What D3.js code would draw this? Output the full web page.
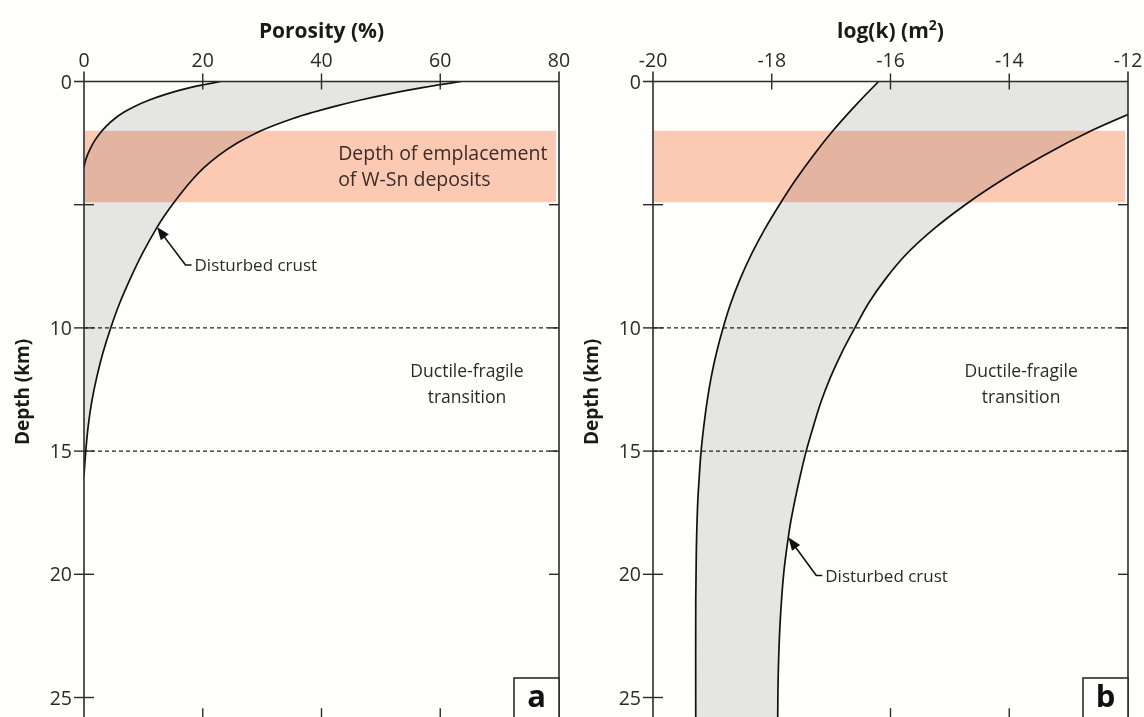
<!DOCTYPE html>
<html><head><meta charset="utf-8">
<script src="https://cdn.jsdelivr.net/npm/d3@7"></script>
<style>
html,body{margin:0;padding:0;background:#fefefc;}
svg{display:block;font-family:"Open Sans",sans-serif;}
</style></head>
<body>
<svg id="chart" width="1144" height="717"></svg>
<script>
// ---------- data ----------
const porosityTicks = [0, 20, 40, 60, 80];
const logkTicks = [-20, -18, -16, -14, -12];
const depthTicks = [0, 5, 10, 15, 20, 25];
const depthTickLabels = ["0", "", "10", "15", "20", "25"];
const transitionDepths = [10, 15];
const emplacementBand = [2.0, 4.9];

// [depth km, porosity %]
const porosityLow = [[0,23],[0.15,19.8],[0.3,17.0],[0.5,14.0],[0.75,11.0],[1.0,8.6],[1.25,6.7],[1.5,5.2],[1.8,3.8],[2.1,2.7],[2.4,1.8],[2.7,1.1],[3.0,0.55],[3.3,0.15],[3.5,0]];
const porosityHigh = [[0,63.5],[0.25,57.0],[0.5,51.4],[0.75,46.6],[1.0,42.4],[1.25,38.6],[1.5,35.2],[2.0,29.8],[2.5,25.8],[3.0,22.7],[3.5,20.2],[4.0,18.2],[4.8,15.5],[5.5,13.4],[6.0,12.1],[7.0,9.8],[8.0,7.8],[9.0,6.0],[10.0,4.5],[11.0,3.2],[12.0,2.15],[13.0,1.3],[14.0,0.7],[15.0,0.3],[16.0,0]];

// [depth km, log k]
const logkLow = [[0,-16.2],[1,-16.6],[2,-16.97],[3,-17.3],[4,-17.6],[5,-17.87],[6,-18.12],[7,-18.34],[8,-18.53],[9,-18.69],[10,-18.82],[11,-18.93],[12,-19.02],[13,-19.09],[14,-19.145],[15,-19.19],[16,-19.22],[17,-19.245],[18,-19.26],[19,-19.27],[21,-19.28],[26,-19.28]];
const logkHigh = [[1.34,-12],[2,-12.62],[3,-13.42],[4,-14.12],[5,-14.74],[6,-15.28],[7,-15.73],[8,-16.08],[9,-16.37],[10,-16.6],[11,-16.82],[12,-17.01],[13,-17.17],[14,-17.3],[15,-17.42],[16,-17.52],[17,-17.61],[18,-17.69],[19,-17.75],[20,-17.8],[22,-17.86],[24,-17.89],[26,-17.9]];

// ---------- drawing ----------
const svg = d3.select("#chart");
const y = d3.scaleLinear().domain([0, 25]).range([81.5, 697.5]);
const yBottom = y(26);
const axisColor = "#2b2b2b";
const textColor = "#2a2a2a";

function panel(opts) {
  const {x, ticks, tickFmt, low, high, title, titleSup, letter, arrow, clipId, fillPath} = opts;
  const g = svg.append("g");
  const [x0, x1] = x.range();

  g.append("clipPath").attr("id", clipId).append("rect")
    .attr("x", x0).attr("y", y(0)).attr("width", x1 - x0).attr("height", yBottom - y(0));

  // bottom ticks (beneath fill)
  g.selectAll(".bt").data(ticks.slice(1, -1)).join("line")
    .attr("x1", d => x(d)).attr("x2", d => x(d))
    .attr("y1", yBottom - 14).attr("y2", yBottom)
    .attr("stroke", axisColor).attr("stroke-width", 1.4);

  // grey fill
  const line = d3.line().x(d => x(d[1])).y(d => y(d[0])).curve(d3.curveCatmullRom.alpha(0.5));
  g.append("path").attr("d", fillPath(line))
    .attr("fill", "#e5e5e3").attr("stroke", "none").attr("clip-path", `url(#${clipId})`);

  // band
  g.append("rect")
    .attr("x", x0 + 1).attr("width", x1 - x0 - 4)
    .attr("y", y(emplacementBand[0])).attr("height", y(emplacementBand[1]) - y(emplacementBand[0]))
    .attr("fill", "#fdcab5").style("mix-blend-mode", "multiply");

  // dashed transition lines
  g.selectAll(".dash").data(transitionDepths).join("line")
    .attr("x1", x0).attr("x2", x1).attr("y1", d => y(d)).attr("y2", d => y(d))
    .attr("stroke", "#222").attr("stroke-width", 1.3).attr("stroke-dasharray", "4,3");

  // curves
  [low, high].forEach(data => {
    g.append("path").attr("d", line(data)).attr("fill", "none")
      .attr("stroke", "#111").attr("stroke-width", 1.7).attr("clip-path", `url(#${clipId})`);
  });

  // frame: top, left, right
  g.append("line").attr("x1", x0 - 10).attr("x2", x1).attr("y1", y(0)).attr("y2", y(0))
    .attr("stroke", axisColor).attr("stroke-width", 1.4);
  g.append("line").attr("x1", x0).attr("x2", x0).attr("y1", y(0) - 10).attr("y2", yBottom)
    .attr("stroke", axisColor).attr("stroke-width", 1.6);
  g.append("line").attr("x1", x1).attr("x2", x1).attr("y1", y(0) - 10).attr("y2", yBottom)
    .attr("stroke", axisColor).attr("stroke-width", 1.6);

  // top ticks
  g.selectAll(".tt").data(ticks.slice(1, -1)).join("line")
    .attr("x1", d => x(d)).attr("x2", d => x(d))
    .attr("y1", y(0) - 8).attr("y2", y(0) + 8)
    .attr("stroke", axisColor).attr("stroke-width", 1.4);
  g.selectAll(".tl").data(ticks).join("text")
    .attr("x", d => x(d)).attr("y", 67).attr("text-anchor", "middle")
    .attr("font-size", 19.5).attr("fill", textColor).text(tickFmt);

  // left / right ticks
  g.selectAll(".lt").data(depthTicks.slice(1)).join("line")
    .attr("x1", x0 - 10).attr("x2", x0 + 10).attr("y1", d => y(d)).attr("y2", d => y(d))
    .attr("stroke", axisColor).attr("stroke-width", 1.4);
  g.selectAll(".rt").data(depthTicks.slice(1)).join("line")
    .attr("x1", x1 - 10).attr("x2", x1).attr("y1", d => y(d)).attr("y2", d => y(d))
    .attr("stroke", axisColor).attr("stroke-width", 1.4);
  g.selectAll(".ll").data(depthTicks).join("text")
    .attr("x", x0 - 12).attr("y", d => y(d)).attr("dy", "0.36em").attr("text-anchor", "end")
    .attr("font-size", 19.5).attr("fill", textColor).text((d, i) => depthTickLabels[i]);

  // axis titles
  const t = g.append("text").attr("x", (x0 + x1) / 2).attr("y", 38).attr("text-anchor", "middle")
    .attr("font-size", 21).attr("font-weight", "bold").attr("fill", "#1a1a1a").text(title);
  if (titleSup) {
    t.append("tspan").attr("font-size", 14).attr("dy", -8).text(titleSup);
    t.append("tspan").attr("dy", 8).text(")");
  }
  g.append("text").attr("transform", `translate(${x0 - 55},${y(12.6)}) rotate(-90)`)
    .attr("text-anchor", "middle").attr("font-size", 19).attr("font-weight", "bold")
    .attr("fill", "#1a1a1a").text("Depth (km)");

  // transition label
  const tx = x(opts.transitionX);
  g.append("text").attr("x", tx).attr("y", y(12.0)).attr("text-anchor", "middle")
    .attr("font-size", 17.5).attr("fill", textColor).text("Ductile-fragile");
  g.append("text").attr("x", tx).attr("y", y(13.05)).attr("text-anchor", "middle")
    .attr("font-size", 17.5).attr("fill", textColor).text("transition");

  // Disturbed crust arrow
  const tip = [x(arrow.tip[1]), y(arrow.tip[0])];
  const elbow = [x(arrow.elbow[1]), y(arrow.elbow[0])];
  g.append("path")
    .attr("d", `M${tip[0] + 5},${tip[1] + 7}L${elbow[0]},${elbow[1]}L${elbow[0] + 6},${elbow[1]}`)
    .attr("fill", "none").attr("stroke", "#111").attr("stroke-width", 1.6);
  const ang = Math.atan2(elbow[1] - tip[1], elbow[0] - tip[0]);
  const hl = 13, hw = 5;
  const bx = tip[0] + hl * Math.cos(ang), by = tip[1] + hl * Math.sin(ang);
  g.append("path")
    .attr("d", `M${tip[0]},${tip[1]}L${bx - hw * Math.sin(ang)},${by + hw * Math.cos(ang)}L${bx + hw * Math.sin(ang)},${by - hw * Math.cos(ang)}Z`)
    .attr("fill", "#111");
  g.append("text").attr("x", elbow[0] + 9).attr("y", elbow[1]).attr("dy", "0.36em")
    .attr("font-size", 17).attr("fill", textColor).text("Disturbed crust");

  // panel letter
  g.append("rect").attr("x", x1 - 45).attr("y", 678).attr("width", 45).attr("height", 60)
    .attr("fill", "#fefefc").attr("stroke", axisColor).attr("stroke-width", 1.6);
  g.append("text").attr("x", x1 - 22.5).attr("y", 707).attr("text-anchor", "middle")
    .attr("font-size", 31).attr("font-weight", "bold").attr("fill", "#111").text(letter);
  return g;
}

const xA = d3.scaleLinear().domain([0, 80]).range([84, 559]);
const gA = panel({
  x: xA, ticks: porosityTicks, tickFmt: d => d, low: porosityLow, high: porosityHigh,
  title: "Porosity (%)", letter: "a", clipId: "clipA", transitionX: 64.5,
  arrow: {tip: [5.9, 12.3], elbow: [7.45, 17.1]},
  fillPath: line => line(porosityHigh) + line(porosityLow.slice().reverse()).replace("M", "L") + "Z"
});
gA.append("text").attr("x", xA(42.8)).attr("y", y(3.2)).attr("font-size", 19.5).attr("fill", "#3a2c28")
  .text("Depth of emplacement");
gA.append("text").attr("x", xA(42.8)).attr("y", y(4.25)).attr("font-size", 19.5).attr("fill", "#3a2c28")
  .text("of W-Sn deposits");

const xB = d3.scaleLinear().domain([-20, -12]).range([653, 1128]);
panel({
  x: xB, ticks: logkTicks, tickFmt: d => d, low: logkLow, high: logkHigh,
  title: "log(k) (m", titleSup: "2", letter: "b", clipId: "clipB", transitionX: -13.8,
  arrow: {tip: [18.5, -17.72], elbow: [20.05, -17.25]},
  fillPath: line => line(logkLow) + line(logkHigh.slice().reverse()).replace("M", "L") +
    `L${xB(-12)},${y(0)}Z`
});
</script>
</body></html>
